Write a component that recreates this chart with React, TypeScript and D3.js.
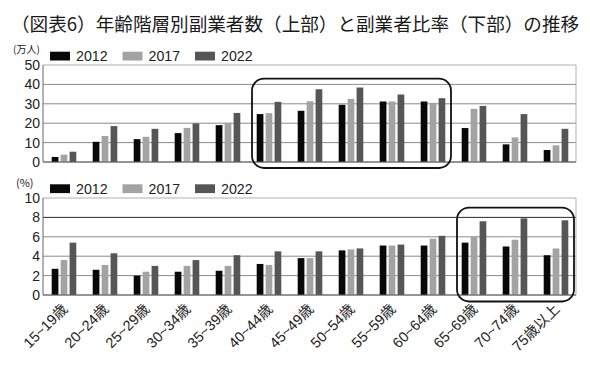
import React from "react";
import * as d3 from "d3";

const categories = ["15~19歳","20~24歳","25~29歳","30~34歳","35~39歳","40~44歳","45~49歳","50~54歳","55~59歳","60~64歳","65~69歳","70~74歳","75歳以上"];
const years = ["2012","2017","2022"];
const workers2012 = [2.6,10.4,11.8,14.9,19.0,24.7,26.4,29.5,31.2,31.2,17.5,9.1,6.2];
const workers2017 = [3.8,13.4,13.0,17.6,20.2,25.2,31.3,32.5,31.2,30.5,27.4,12.7,8.6];
const workers2022 = [5.3,18.5,17.1,19.9,25.3,31.0,37.5,38.4,34.8,32.9,28.9,24.7,17.1];
const ratio2012 = [2.7,2.6,2.0,2.4,2.5,3.2,3.8,4.6,5.1,5.1,5.4,5.0,4.1];
const ratio2017 = [3.6,3.1,2.4,3.0,3.0,3.1,3.8,4.7,5.1,5.8,6.0,5.7,4.8];
const ratio2022 = [5.4,4.3,3.0,3.6,4.1,4.5,4.5,4.8,5.2,6.1,7.6,7.9,7.7];
const topTicks = [0,10,20,30,40,50];
const bottomTicks = [0,2,4,6,8,10];
const colors = ["#080808","#a3a3a3","#565656"];

const FONT = "'Liberation Sans', Arial, 'Noto Sans CJK JP', sans-serif";
const JFONT = "'Noto Sans CJK JP', sans-serif";

const x = d3.scaleBand<string>().domain(categories).range([43, 576]).padding(0);
const xs = d3.scaleBand<string>().domain(years).range([8.7, 33.3]).paddingInner(0.25).paddingOuter(0);
const yTop = d3.scaleLinear().domain([0, 50]).range([162, 65]);
const yBot = d3.scaleLinear().domain([0, 10]).range([295, 198]);

function Panel({ y, ticks, series, unit, legendY, unitY, unitSize, darkTick, box }: any) {
  const [lo, hi] = y.domain();
  return (
    <g>
      {ticks.map((t: number) => (
        <line key={"g" + t} x1={43} x2={576} y1={y(t)} y2={y(t)}
          stroke={t === hi ? "#b0b0b0" : t === darkTick ? "#2a2a2a" : "#8a8a8a"} strokeWidth={1} />
      ))}
      <line x1={576} x2={576} y1={y(hi)} y2={y(lo)} stroke="#b0b0b0" />
      <line x1={43} x2={43} y1={y(hi)} y2={y(lo)} stroke="#666" />
      {ticks.map((t: number) => (
        <text key={"t" + t} x={40} y={y(t) + 5} textAnchor="end" fontSize={14} fontFamily={FONT} fill="#222">{t}</text>
      ))}
      {series.map((vals: number[], si: number) =>
        vals.map((v, i) => (
          <rect key={si + "-" + i} x={(x(categories[i]) as number) + (xs(years[si]) as number)} width={xs.bandwidth()}
            y={y(v)} height={y(0) - y(v)} fill={colors[si]} />
        ))
      )}
      <line x1={43} x2={576} y1={y(0)} y2={y(0)} stroke="#666" />
      <text x={unit.x} y={unitY} fontSize={unitSize} fontFamily={JFONT} fill="#222">{unit.text}</text>
      {years.map((yr, i) => (
        <g key={yr}>
          <rect x={50 + i * 72.5} y={legendY} width={20} height={8.8} fill={colors[i]} />
          <text x={76 + i * 72.5} y={legendY + 9.2} fontSize={14.2} fontFamily={FONT} fill="#222">{yr}</text>
        </g>
      ))}
      <rect x={(x(box.from) as number) + 4} y={y(box.top)} width={(x(box.to) as number) + x.step() - 2 - ((x(box.from) as number) + 4)}
        height={y(0) + box.below - y(box.top)} rx={12} ry={12} fill="none" stroke="#111" strokeWidth={1.8} />
    </g>
  );
}

export default function App() {
  return (
    <svg width={590} height={370} style={{ position: "absolute", left: 0, top: 0, background: "#fff" }}>
      <rect width={590} height={370} fill="#fff" />
      <text x={11} y={31} fontSize={18.6} fontFamily={JFONT} fill="#1a1a1a">（図表6）年齢階層別副業者数（上部）と副業者比率（下部）の推移</text>
      <Panel y={yTop} ticks={topTicks} series={[workers2012, workers2017, workers2022]}
        unit={{ x: 13, text: "(万人)" }} unitY={53} unitSize={10} legendY={51.7}
        box={{ from: "40~44歳", to: "60~64歳", top: 43, below: 6 }} />
      <Panel y={yBot} ticks={bottomTicks} series={[ratio2012, ratio2017, ratio2022]}
        unit={{ x: 16, text: "(%)" }} unitY={187} unitSize={11} legendY={184.3} darkTick={8}
        box={{ from: "65~69歳", to: "75歳以上", top: 9, below: 6.5 }} />
      {categories.map((c) => {
        const cx = (x(c) as number) + x.bandwidth() / 2 + 5;
        return (
          <text key={c} transform={`translate(${cx},310) rotate(-45)`} textAnchor="end" fontSize={14.5} fontFamily={FONT} fill="#222">{c}</text>
        );
      })}
    </svg>
  );
}
